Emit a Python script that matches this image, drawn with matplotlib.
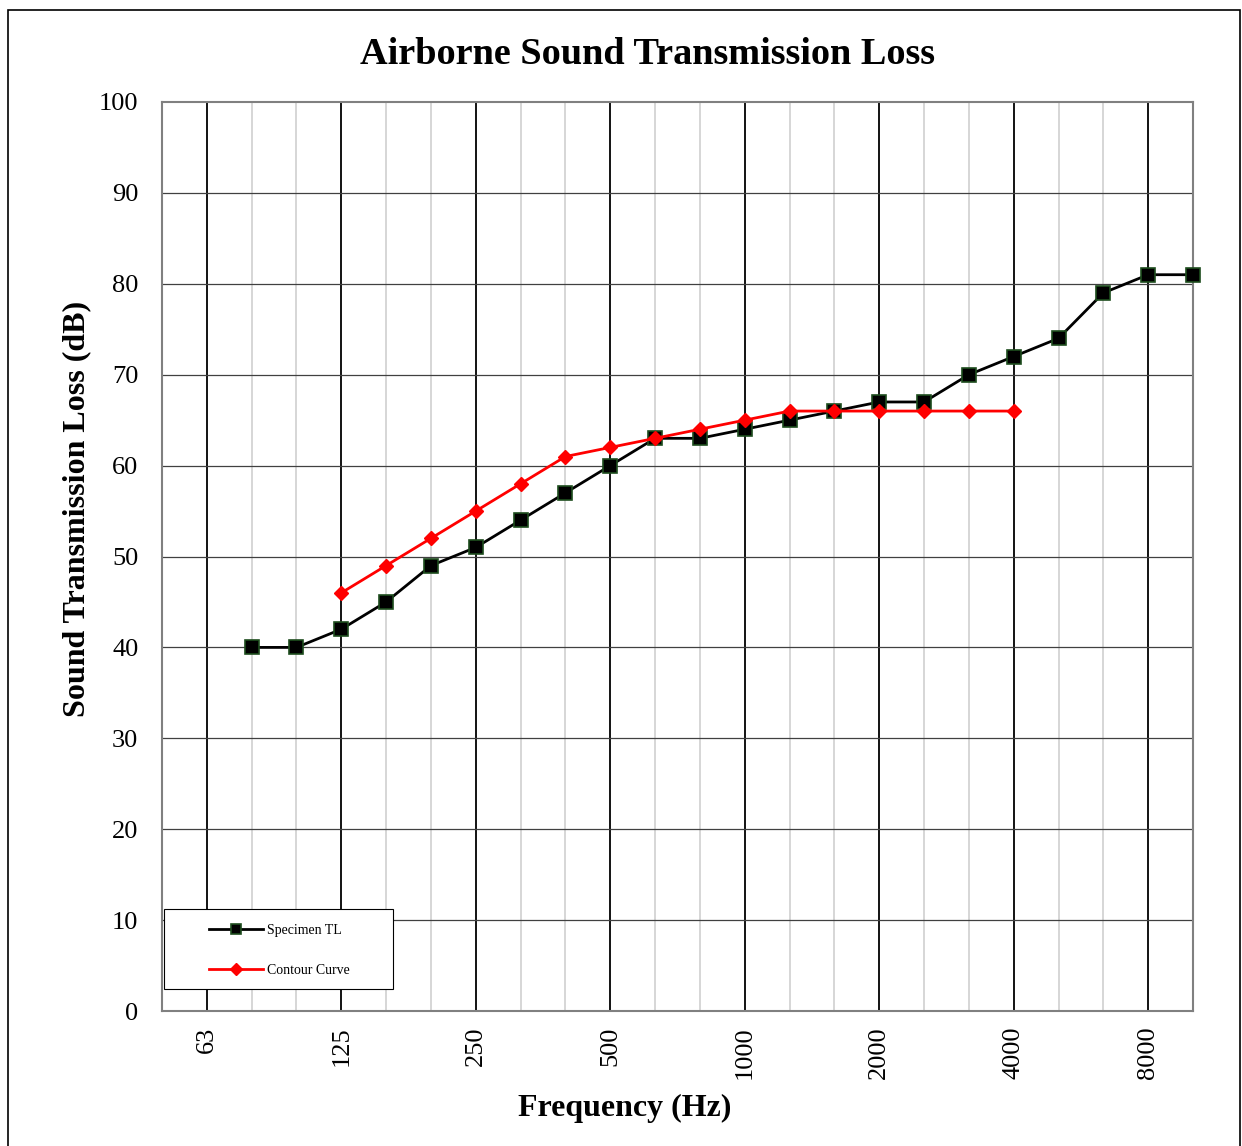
import matplotlib
matplotlib.use("Agg")
import matplotlib.pyplot as plt
from matplotlib.patches import Rectangle
from matplotlib.legend_handler import HandlerLine2D

plt.rcParams['font.family'] = ['Liberation Serif', 'DejaVu Serif']

# one-third octave bands, 50 Hz .. 10 kHz
bands = [50, 63, 80, 100, 125, 160, 200, 250, 315, 400, 500, 630, 800,
         1000, 1250, 1600, 2000, 2500, 3150, 4000, 5000, 6300, 8000, 10000]
octave_labels = ['63', '125', '250', '500', '1000', '2000', '4000', '8000']

specimen_freq = [80, 100, 125, 160, 200, 250, 315, 400, 500, 630, 800, 1000,
                 1250, 1600, 2000, 2500, 3150, 4000, 5000, 6300, 8000, 10000]
specimen_tl = [40, 40, 42, 45, 49, 51, 54, 57, 60, 63, 63, 64,
               65, 66, 67, 67, 70, 72, 74, 79, 81, 81]

contour_freq = [125, 160, 200, 250, 315, 400, 500, 630, 800, 1000,
                1250, 1600, 2000, 2500, 3150, 4000]
contour_tl = [46, 49, 52, 55, 58, 61, 62, 63, 64, 65,
              66, 66, 66, 66, 66, 66]

pos = {f: i for i, f in enumerate(bands)}

W, H = 1242, 1146
fig = plt.figure(figsize=(W / 100, H / 100), dpi=100)
ax = fig.add_axes([162 / W, 1 - 1011 / H, (1193 - 162) / W, (1011 - 102) / H])

# outer chart border
fig.patches.append(Rectangle((8 / W, -0.01), (1240 - 8) / W, 1 - 10 / H + 0.01,
                             transform=fig.transFigure, fill=False,
                             edgecolor='black', linewidth=1.2))

# grid
for i, f in enumerate(bands):
    if str(f) in octave_labels:
        ax.axvline(i, color='black', linewidth=1.3, zorder=1)
    else:
        ax.axvline(i, color='#d0d0d0', linewidth=1.2, zorder=1)
for y in range(10, 100, 10):
    ax.axhline(y, color='#404040', linewidth=0.9, zorder=1)

ax.plot([pos[f] for f in specimen_freq], specimen_tl, color='black', linewidth=2,
        marker='s', markersize=10, markerfacecolor='black',
        markeredgecolor='#1e4d1e', markeredgewidth=1.2, label='Specimen TL',
        zorder=3, clip_on=False)
ax.plot([pos[f] for f in contour_freq], contour_tl, color='red', linewidth=2,
        marker='D', markersize=7, markerfacecolor='red',
        markeredgecolor='red', label='Contour Curve', zorder=4, clip_on=False)

ax.set_xlim(0, len(bands) - 1)
ax.set_ylim(0, 100)
ax.set_yticks(range(0, 101, 10))
ax.set_xticks([pos[int(s)] for s in octave_labels])
ax.set_xticklabels(octave_labels, rotation=90)
ax.tick_params(axis='both', length=0, labelsize=19)
ax.tick_params(axis='x', pad=11)
ax.tick_params(axis='y', pad=17)
for s in ax.spines.values():
    s.set_color('#808080')
    s.set_linewidth(1.5)

fig.text(648 / W, 1 - 54 / H, 'Airborne Sound Transmission Loss',
         fontsize=27.5, fontweight='bold', ha='center', va='center')
fig.text(625 / W, 1 - 1108 / H, 'Frequency (Hz)',
         fontsize=23, fontweight='bold', ha='center', va='center')
fig.text(77 / W, 1 - 509 / H, 'Sound Transmission Loss (dB)', rotation=90,
         fontsize=23, fontweight='bold', ha='center', va='center')

# legend box
ax.add_patch(Rectangle((2 / 1031, 22 / 909), 229 / 1031, 80 / 909,
                       transform=ax.transAxes, facecolor='white',
                       edgecolor='black', linewidth=0.8, zorder=5))
leg = ax.legend(loc='upper left', bbox_to_anchor=(2 / 1031, 98 / 909),
                fontsize=10, frameon=False, handlelength=6.3,
                labelspacing=1.9, borderpad=0.8, handletextpad=0.3,
                borderaxespad=0,
                handler_map={l: HandlerLine2D(xpad=2.45) for l in ax.get_lines()
                             if l.get_label() in ('Specimen TL', 'Contour Curve')})
leg.set_zorder(6)
for h in leg.legend_handles:
    h.set_markersize(7 if h.get_marker() == 's' else 6)

fig.savefig('out.png', dpi=100)
